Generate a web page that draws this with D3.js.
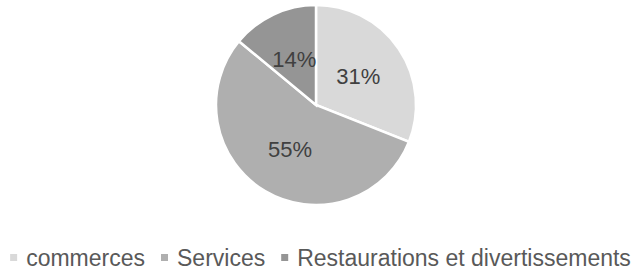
<!DOCTYPE html>
<html>
<head>
<meta charset="utf-8">
<script src="https://cdn.jsdelivr.net/npm/d3@7"></script>
<style>
  body { margin: 0; background: #fff; }
  svg { display: block; font-family: "Liberation Sans", Arial, sans-serif; }
</style>
</head>
<body>
<div id="chart"></div>
<script>
var categories = ["commerces", "Services", "Restaurations et divertissements"];
var values = [31, 55, 14];
var colors = ["#d9d9d9", "#afafaf", "#959595"];

var width = 635,
    height = 273;

var svg = d3.select("#chart").append("svg")
    .attr("width", width)
    .attr("height", height);

var radius = 100;

var pie = d3.pie()
    .sort(null)
    .value(function (d) { return d; });

var arc = d3.arc()
    .innerRadius(0)
    .outerRadius(radius);

// labels sit about half way out
var labelArc = d3.arc()
    .innerRadius(radius * 0.51)
    .outerRadius(radius * 0.51);

var g = svg.append("g")
    .attr("transform", "translate(316,105)");

var arcs = pie(values);

g.selectAll("path")
    .data(arcs)
    .join("path")
    .attr("d", arc)
    .attr("fill", function (d, i) { return colors[i]; })
    .attr("stroke", "#fff")
    .attr("stroke-width", 2.5)
    .attr("stroke-linejoin", "miter");

g.selectAll("text")
    .data(arcs)
    .join("text")
    .attr("transform", function (d) { return "translate(" + labelArc.centroid(d) + ")"; })
    .attr("text-anchor", "middle")
    .attr("dy", "0.36em")
    .style("font-size", "22px")
    .style("fill", "#404040")
    .text(function (d) { return d.data + "%"; });

// legend
var legend = svg.append("g")
    .attr("class", "legend");

var items = legend.selectAll("g")
    .data(categories)
    .join("g");

items.append("rect")
    .attr("width", 7)
    .attr("height", 7)
    .attr("y", -4)
    .attr("fill", function (d, i) { return colors[i]; });

items.append("text")
    .attr("x", 16)
    .attr("dy", "0.35em")
    .style("font-size", "23px")
    .style("fill", "#595959")
    .text(function (d) { return d; });

var gap = 16;
var x = 0;
items.each(function () {
    var item = d3.select(this);
    item.attr("transform", "translate(" + x + ",0)");
    x += 16 + item.select("text").node().getComputedTextLength() + gap;
});
var total = x - gap;
legend.attr("transform", "translate(" + ((width - total) / 2 + 3) + ",258)");
</script>
</body>
</html>
